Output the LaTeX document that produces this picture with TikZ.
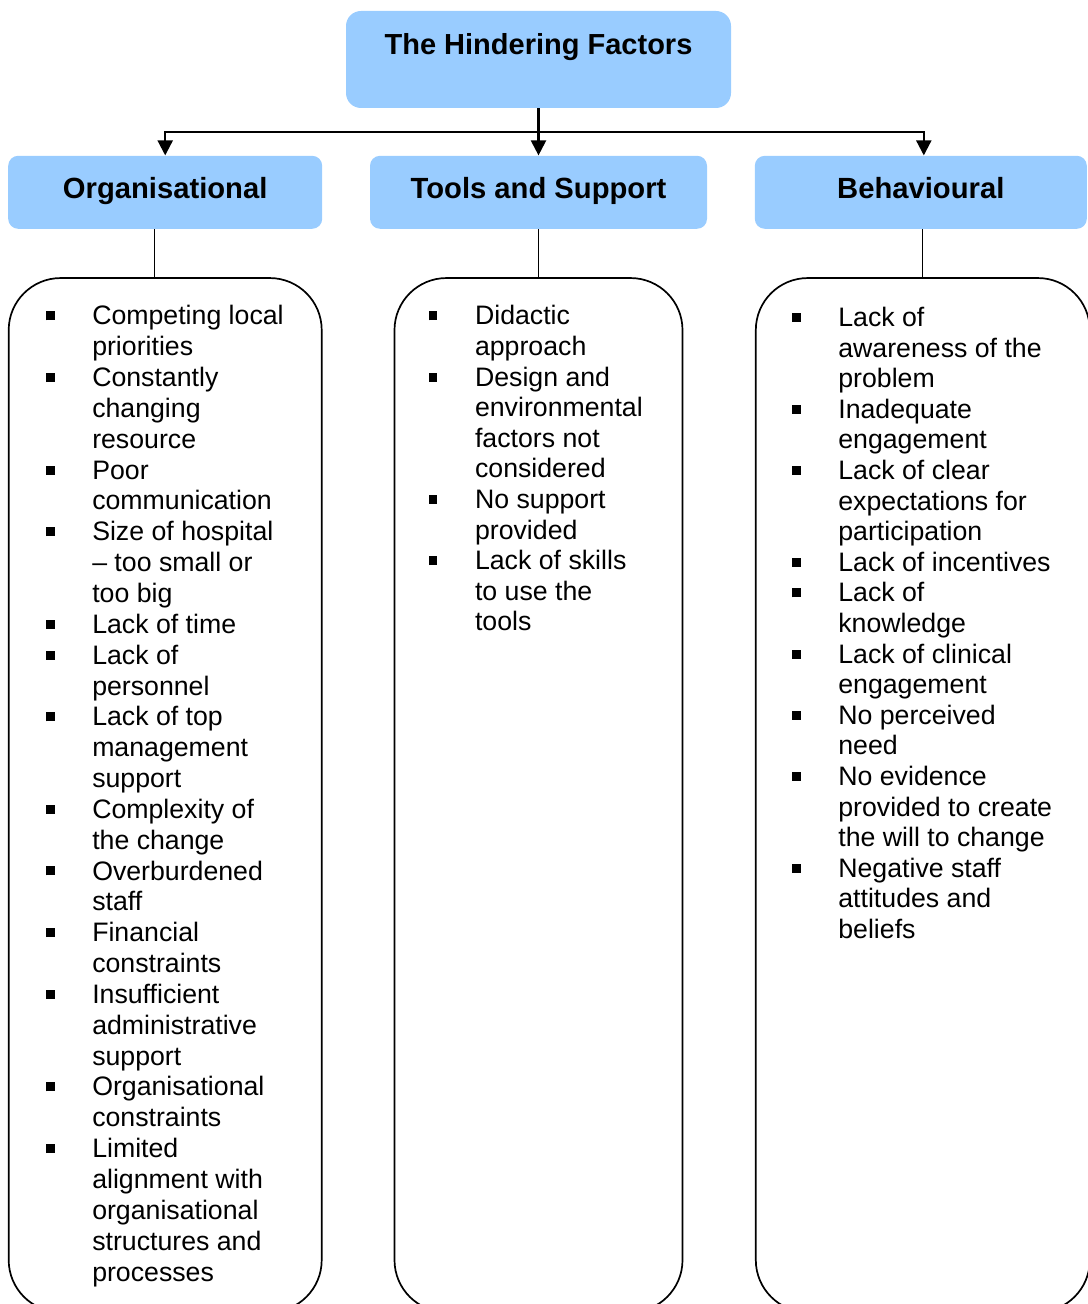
\documentclass[tikz,border=0pt]{standalone}
\usepackage{fontspec}
\setmainfont{Liberation Sans}
\usetikzlibrary{positioning,calc,arrows.meta}
\definecolor{headblue}{RGB}{153,204,255}
\newcommand{\blt}{\makebox[23pt][l]{\rule[2.3pt]{4.2pt}{4.5pt}}}
\newcommand{\ind}{\hspace*{23pt}}

\begin{document}
\begin{tikzpicture}[rootbox/.style={fill=headblue, rounded corners=7.5pt, minimum width=192.5pt, minimum height=48.5pt, inner sep=0pt, text height=21.8pt, text depth=26.7pt, font=\fontsize{14.5pt}{17pt}\selectfont\bfseries},headbox/.style={fill=headblue, rounded corners=5pt, minimum height=36.5pt, inner sep=0pt, text height=21.2pt, text depth=15.3pt, font=\fontsize{14.6pt}{17pt}\selectfont\bfseries},panel/.style={draw, line width=0.85pt, rounded corners=26pt, minimum height=517pt, inner sep=0pt},itemlist/.style={anchor=north west, align=left, inner sep=0pt, font=\fontsize{13.35pt}{15.42pt}\selectfont},arr/.style={-{Triangle[length=7.5pt,width=7.5pt]}, line width=1.1pt},link/.style={line width=0.65pt}]
    \useasboundingbox (0,0) rectangle (543.5pt,-652pt);
    % top
    \node[rootbox] (root) at (269.25pt,-29.75pt) {The Hindering Factors};
    % categories
    \node[headbox, minimum width=168.5pt, below=23.5pt of root] (toolsHead) {Tools and Support};
    \node[headbox, minimum width=157pt, left=23.5pt of toolsHead] (orgHead) {Organisational};
    \node[headbox, minimum width=166pt, right=23.5pt of toolsHead] (behHead) {Behavioural};
    % panels
    \node[panel, minimum width=156.5pt, below=24pt of orgHead] (orgPanel) {};
    \node[panel, minimum width=144pt, below=24pt of toolsHead] (toolsPanel) {};
    \node[panel, minimum width=167pt, below=24pt of behHead, xshift=1pt] (behPanel) {};
    % lists
    \node[itemlist] (orgList) at ([xshift=19pt, yshift=-14pt]orgPanel.north west) {\blt Competing local\\ \ind priorities\\ \blt Constantly\\ \ind changing\\ \ind resource\\ \blt Poor\\ \ind communication\\ \blt Size of hospital\\ \ind -- too small or\\ \ind too big\\ \blt Lack of time\\ \blt Lack of\\ \ind personnel\\ \blt Lack of top\\ \ind management\\ \ind support\\ \blt Complexity of\\ \ind the change\\ \blt Overburdened\\ \ind staff\\ \blt Financial\\ \ind constraints\\ \blt Insufficient\\ \ind administrative\\ \ind support\\ \blt Organisational\\ \ind constraints\\ \blt Limited\\ \ind alignment with\\ \ind organisational\\ \ind structures and\\ \ind processes};
    \node[itemlist, font=\fontsize{13.35pt}{15.3pt}\selectfont] (toolsList) at ([xshift=17.5pt, yshift=-14pt]toolsPanel.north west) {\blt Didactic\\ \ind approach\\ \blt Design and\\ \ind environmental\\ \ind factors not\\ \ind considered\\ \blt No support\\ \ind provided\\ \blt Lack of skills\\ \ind to use the\\ \ind tools};
    \node[itemlist, font=\fontsize{13.35pt}{15.3pt}\selectfont] (behList) at ([xshift=18.5pt, yshift=-14.8pt]behPanel.north west) {\blt Lack of\\ \ind awareness of the\\ \ind problem\\ \blt Inadequate\\ \ind engagement\\ \blt Lack of clear\\ \ind expectations for\\ \ind participation\\ \blt Lack of incentives\\ \blt Lack of\\ \ind knowledge\\ \blt Lack of clinical\\ \ind engagement\\ \blt No perceived\\ \ind need\\ \blt No evidence\\ \ind provided to create\\ \ind the will to change\\ \blt Negative staff\\ \ind attitudes and\\ \ind beliefs};
    % arrows
    \coordinate (bus) at ($(root.south)!0.5!(toolsHead.north)$);
    \draw[arr] (root.south) -- (toolsHead.north);
    \draw[arr] (bus) -| (orgHead.north);
    \draw[arr] (bus) -| ([xshift=1.5pt]behHead.north);
    % links to panels
    \draw[link] ([xshift=-5.5pt]orgHead.south) -- ([xshift=-5.5pt]orgHead.south |- orgPanel.north);
    \draw[link] (toolsHead.south) -- (toolsPanel.north);
    \draw[link] (behPanel.north |- behHead.south) -- (behPanel.north);
\end{tikzpicture}
\end{document}
